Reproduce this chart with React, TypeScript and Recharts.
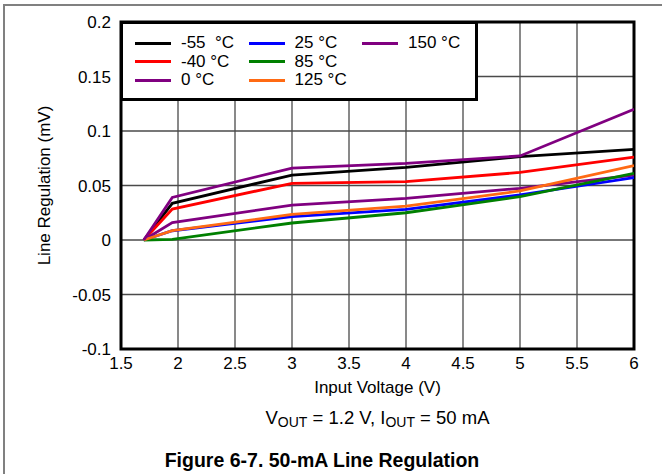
import React from "react";
import {
  LineChart,
  Line,
  XAxis,
  YAxis,
  CartesianGrid,
  Legend,
  ReferenceArea,
} from "recharts";

const inputVoltage = [1.7, 1.95, 3, 4, 5, 6];
const regM55 = [0, 0.0337, 0.0596, 0.0667, 0.0764, 0.0832];
const regM40 = [0, 0.0284, 0.052, 0.0535, 0.062, 0.0761];
const reg0 = [0, 0.0159, 0.032, 0.0382, 0.0474, 0.0596];
const reg25 = [0, 0.0085, 0.0215, 0.028, 0.0413, 0.0572];
const reg85 = [0, 0.0006, 0.0156, 0.025, 0.0397, 0.0612];
const reg125 = [0, 0.0085, 0.0235, 0.031, 0.045, 0.0682];
const reg150 = [0, 0.039, 0.066, 0.0703, 0.0771, 0.12];

const xTicks = [1.5, 2, 2.5, 3, 3.5, 4, 4.5, 5, 5.5, 6];
const yTicks = [-0.1, -0.05, 0, 0.05, 0.1, 0.15, 0.2];

const seriesNames = ["-55  °C", "-40 °C", "0 °C", "25 °C", "85 °C", "125 °C", "150 °C"];
const seriesKeys = ["m55", "m40", "c0", "c25", "c85", "c125", "c150"];
const seriesColors = ["#000000", "#ff0000", "#800080", "#0000ff", "#008000", "#ff6a13", "#800080"];
const seriesValues = [regM55, regM40, reg0, reg25, reg85, reg125, reg150];

const data = inputVoltage.map((v, i) => {
  const row: Record<string, number> = { v };
  seriesKeys.forEach((k, j) => {
    row[k] = seriesValues[j][i];
  });
  return row;
});

const FONT = "'Liberation Sans', Arial, Helvetica, sans-serif";

const renderLegend = () => {
  return (
    <div
      style={{
        position: "relative",
        width: 358,
        height: 80,
        border: "3px solid #000",
        boxSizing: "border-box",
        background: "#fff",
        fontFamily: FONT,
        fontSize: 17,
        color: "#000",
      }}
    >
      {seriesNames.map((name, i) => {
        const col = Math.floor(i / 3);
        const row = i % 3;
        const left = 12 + col * 113.5;
        const cy = 19 + row * 18.5;
        return (
          <React.Fragment key={i}>
            <div
              style={{
                position: "absolute",
                left,
                top: cy - 1.5,
                width: 36,
                height: 3,
                background: seriesColors[i],
              }}
            />
            <div
              style={{
                position: "absolute",
                left: left + 46,
                top: cy - 10,
                height: 20,
                lineHeight: "20px",
                whiteSpace: "pre",
              }}
            >
              {name}
            </div>
          </React.Fragment>
        );
      })}
    </div>
  );
};

export default function App() {
  return (
    <div
      style={{
        position: "absolute",
        left: 0,
        top: 0,
        width: 662,
        height: 474,
        overflow: "hidden",
        background: "#fff",
        fontFamily: FONT,
      }}
    >
      <div
        style={{
          position: "absolute",
          left: 3,
          top: 4,
          width: 700,
          height: 500,
          borderTop: "2px solid #808080",
          borderLeft: "2px solid #808080",
        }}
      />
      <div style={{ position: "absolute", left: 0, top: 0 }}>
        <LineChart
          width={662}
          height={474}
          data={data}
          margin={{ top: 22, right: 28, bottom: 75, left: 21 }}
        >
          <CartesianGrid stroke="#4a4a4a" strokeWidth={1.3} />
          <XAxis
            dataKey="v"
            type="number"
            domain={[1.5, 6]}
            ticks={xTicks}
            allowDataOverflow
            height={50}
            axisLine={false}
            tickLine={false}
            tickSize={0}
            tickMargin={8}
            tick={{ fill: "#000", fontSize: 17, fontFamily: FONT }}
            interval={0}
            label={{
              value: "Input Voltage (V)",
              position: "insideBottom",
              offset: 6,
              style: { fill: "#000", fontSize: 17, fontFamily: FONT },
            }}
          />
          <YAxis
            type="number"
            domain={[-0.1, 0.2]}
            ticks={yTicks}
            allowDataOverflow
            width={100}
            axisLine={false}
            tickLine={false}
            tickSize={0}
            tickMargin={10}
            interval={0}
            tick={{ fill: "#000", fontSize: 17, fontFamily: FONT }}
            label={{
              value: "Line Regulation (mV)",
              angle: -90,
              position: "insideLeft",
              offset: 23,
              style: { fill: "#000", fontSize: 17, fontFamily: FONT, textAnchor: "middle" },
            }}
          />
          {seriesKeys.map((k, j) => (
            <Line
              key={k}
              dataKey={k}
              name={seriesNames[j]}
              stroke={seriesColors[j]}
              strokeWidth={2.8}
              dot={false}
              isAnimationActive={false}
            />
          ))}
          <ReferenceArea
            x1={1.5}
            x2={6}
            y1={-0.1}
            y2={0.2}
            fill="none"
            fillOpacity={0}
            stroke="#000"
            strokeWidth={3}
            ifOverflow="visible"
          />
          <Legend
            layout="horizontal"
            verticalAlign="middle"
            align="center"
            content={renderLegend}
            wrapperStyle={{ left: 120, top: 21, width: 358, height: 80 }}
          />
        </LineChart>
      </div>
      <div
        style={{
          position: "absolute",
          left: 0,
          width: 755,
          top: 407,
          textAlign: "center",
          fontSize: 18.5,
          color: "#000",
          whiteSpace: "nowrap",
        }}
      >
        V<sub style={{ fontSize: 14, verticalAlign: -3 }}>OUT</sub> = 1.2 V, I
        <sub style={{ fontSize: 14, verticalAlign: -3 }}>OUT</sub> = 50 mA
      </div>
      <div
        style={{
          position: "absolute",
          left: 0,
          width: 644,
          top: 449,
          textAlign: "center",
          fontSize: 19.5,
          fontWeight: "bold",
          color: "#000",
          whiteSpace: "nowrap",
        }}
      >
        Figure 6-7. 50-mA Line Regulation
      </div>
    </div>
  );
}
